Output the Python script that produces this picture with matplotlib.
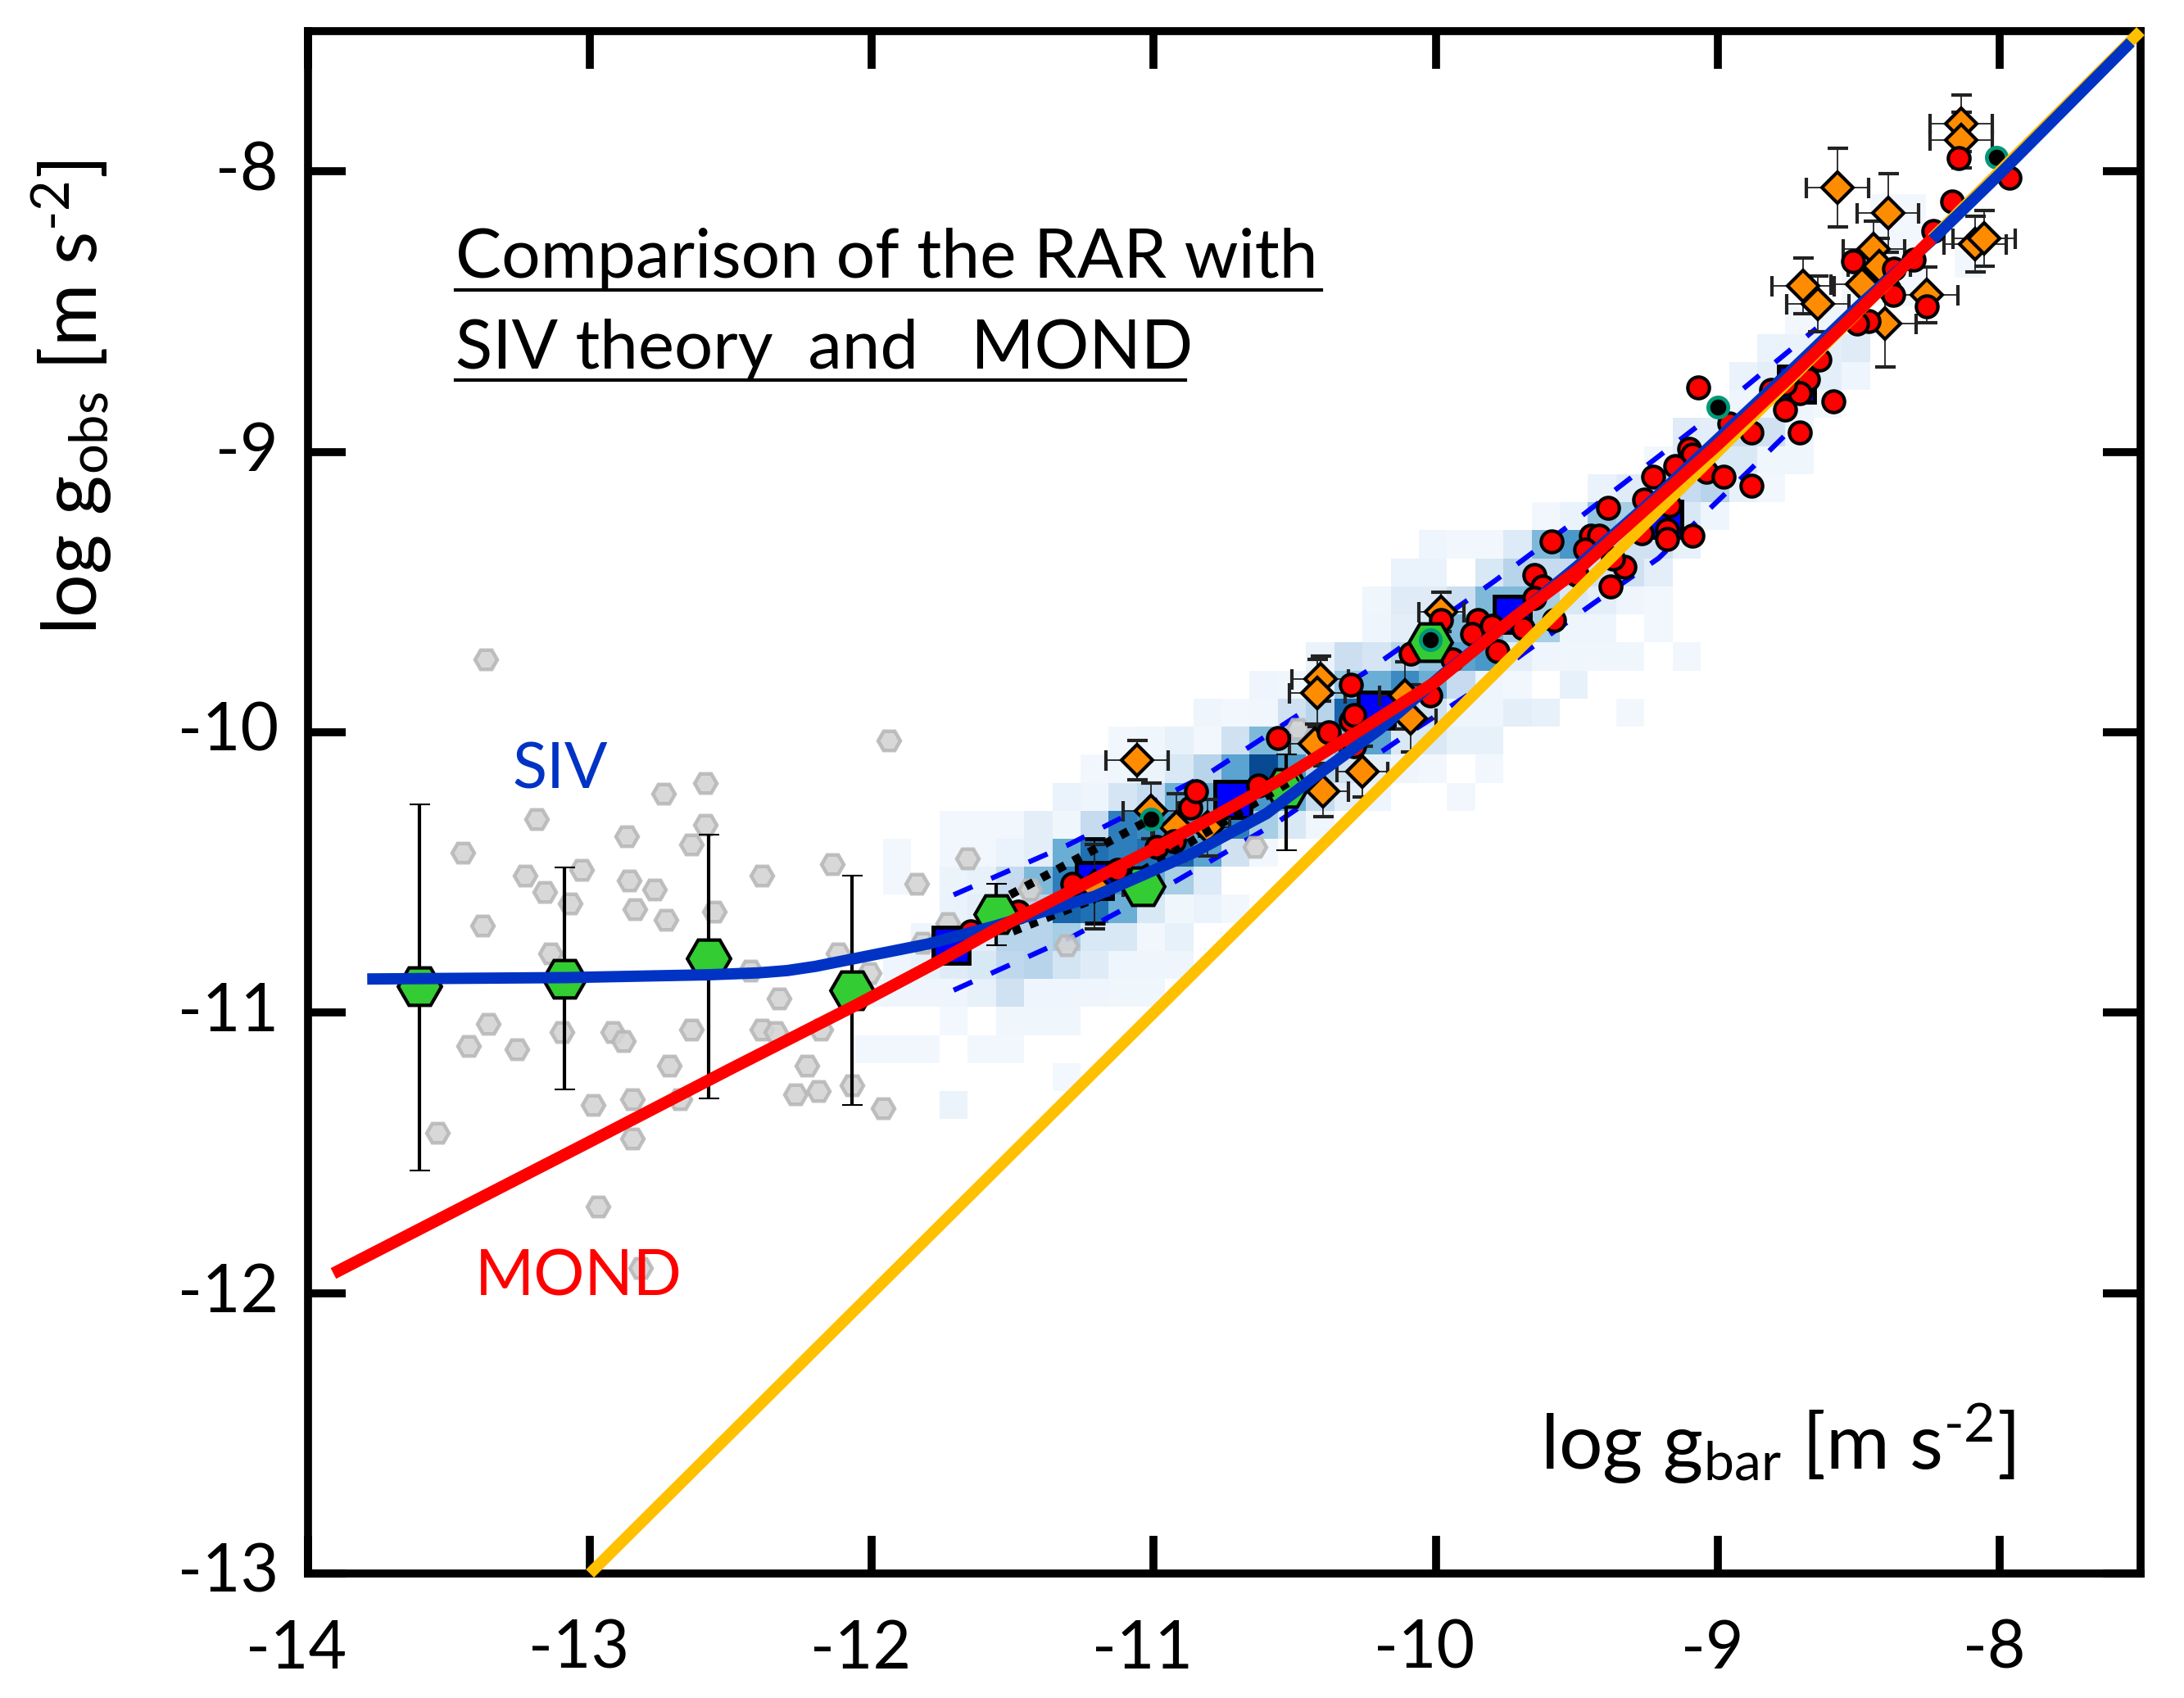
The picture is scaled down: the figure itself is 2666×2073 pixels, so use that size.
import numpy as np
import matplotlib
matplotlib.use('Agg')
import matplotlib.pyplot as plt
from matplotlib.lines import Line2D
from matplotlib.transforms import ScaledTranslation

plt.rcParams['font.family'] = ['Lato', 'DejaVu Sans']
plt.rcParams['mathtext.fontset'] = 'custom'
plt.rcParams['mathtext.rm'] = 'Lato'
plt.rcParams['mathtext.default'] = 'regular'
plt.rcParams['axes.unicode_minus'] = False

# binned density, one row per y band: (top of band, first column, values)
hist_x0 = -12.06
hist_rows = [
    (-8.08, 36, [.03, .03]),
    (-8.18, 36, [.03, .03]),
    (-8.28, 35, [.03, .03, .03, .00, .03]),
    (-8.38, 35, [.03, .03, .03]),
    (-8.48, 33, [.03, .05, .03]),
    (-8.58, 32, [.07, .07, .10, .12]),
    (-8.68, 31, [.07, .10, .10, .10, .05]),
    (-8.78, 31, [.05, .05, .05, .03]),
    (-8.88, 29, [.12, .10, .25, .20, .05]),
    (-8.98, 28, [.03, .10, .15, .15, .04, .04]),
    (-9.08, 26, [.07, .12, .20, .25, .30, .08, .03]),
    (-9.18, 24, [.03, .07, .40, .35, .20, .15, .05]),
    (-9.28, 20, [.05, .03, .03, .13, .45, .60, .30, .20, .20, .08]),
    (-9.38, 19, [.07, .07, .00, .15, .30, .25, .25, .20, .20, .10]),
    (-9.48, 18, [.04, .12, .12, .22, .45, .45, .35, .15, .10, .05, .03]),
    (-9.58, 18, [.05, .10, .15, .45, .50, .35, .35, .05, .05, .00, .03]),
    (-9.68, 16, [.07, .22, .17, .30, .40, .55, .60, .10, .05, .04, .04, .04, .00, .03]),
    (-9.78, 14, [.05, .04, .10, .40, .50, .65, .50, .25, .05, .03, .00, .08]),
    (-9.88, 12, [.05, .03, .04, .20, .30, .80, .70, .30, .20, .05, .05, .10, .08, .00, .00, .03]),
    (-9.98, 9, [.03, .04, .08, .03, .20, .45, .35, .30, .45, .55, .15, .15, .08, .08]),
    (-10.08, 8, [.03, .04, .06, .15, .30, .55, .90, .60, .30, .20, .10, .05, .03, .00, .03]),
    (-10.18, 7, [.07, .05, .17, .25, .50, .50, .70, .60, .50, .25, .10, .05, .00, .00, .03]),
    (-10.28, 3, [.03, .03, .03, .10, .04, .25, .70, .65, .60, .50, .70, .35, .15, .04]),
    (-10.38, 1, [.03, .00, .03, .03, .07, .10, .50, .75, .70, .75, .80, .55, .20, .03]),
    (-10.48, 1, [.03, .00, .06, .08, .25, .45, .70, .80, .60, .50, .35, .13]),
    (-10.58, 3, [.07, .10, .10, .30, .80, .75, .50, .15, .04, .07, .03]),
    (-10.68, 2, [.05, .08, .10, .30, .30, .35, .15, .15, .03, .08]),
    (-10.78, 1, [.05, .08, .12, .15, .27, .30, .18, .12, .05, .05, .05]),
    (-10.88, 0, [.04, .05, .05, .05, .08, .20, .05, .05, .05, .04, .04]),
    (-10.98, 3, [.02, .00, .04, .04, .04]),
    (-11.08, 0, [.03, .03, .03, .00, .03, .03]),
    (-11.18, 7, [.02]),
    (-11.28, 3, [.06]),
]

# individual galaxies at low acceleration
gray_x = [-13.37, -11.94, -12.59, -12.74, -13.19, -12.59, -12.87, -12.64, -13.45, -13.03, -13.23,
          -12.86, -12.39, -12.14, -11.84, -13.16, -12.77, -13.07, -12.84, -12.73, -12.56, -13.38,
          -13.14, -12.12, -12.43, -12.01, -11.82, -12.33, -13.36, -13.10, -12.92, -12.88, -12.64,
          -12.39, -12.34, -12.18, -13.43, -13.26, -12.72, -12.23, -12.27, -12.19, -12.07, -11.96,
          -12.99, -12.85, -12.68, -13.54, -12.85, -12.97, -12.82, -11.66, -11.73, -11.44, -11.31,
          -10.64, -10.49]
gray_y = [-9.74, -10.03, -10.18, -10.22, -10.31, -10.33, -10.37, -10.40, -10.43, -10.49, -10.51,
          -10.53, -10.51, -10.47, -10.54, -10.57, -10.56, -10.61, -10.63, -10.67, -10.64, -10.69,
          -10.79, -10.79, -10.85, -10.86, -10.75, -10.95, -11.04, -11.07, -11.07, -11.10, -11.06,
          -11.06, -11.07, -11.06, -11.12, -11.13, -11.19, -11.19, -11.29, -11.28, -11.26, -11.34,
          -11.33, -11.31, -11.31, -11.43, -11.45, -11.69, -11.91, -10.45, -10.68, -10.56, -10.76,
          -10.41, -9.99]

# binned points
green_x = [-13.605, -13.09, -12.58, -12.07, -11.56, -11.04, -10.53, -10.02]
green_y = [-10.907, -10.878, -10.805, -10.92, -10.65, -10.55, -10.20, -9.68]
green_up = [.65, .395, .44, .41, .11, .05, .12, .05]
green_dn = [.655, .395, .50, .41, .11, .05, .22, .05]

square_x = [-11.72, -11.21, -10.72, -10.21, -9.73, -9.19, -8.72]
square_y = [-10.76, -10.53, -10.24, -9.92, -9.58, -9.24, -8.76]
square_err = [.05, .15, .05, .05, .05, .05, .05]

diamond_x = [-8.136, -8.136, -8.576, -8.396, -8.087, -8.056, -8.446, -8.488, -8.697, -8.645, -8.407, -8.257, -8.427,
             -9.98, -10.41, -10.42, -10.09, -10.11, -10.43, -10.26, -10.40, -11.06, -11.01, -10.92,
             -10.81, -11.21]
diamond_y = [-7.829, -7.888, -8.059, -8.148, -8.26, -8.239, -8.277, -8.402, -8.409, -8.472, -8.543, -8.441, -8.339,
             -9.57, -9.81, -9.86, -9.95, -9.87, -10.04, -10.14, -10.21, -10.10, -10.28, -10.34,
             -10.34, -10.55]
diamond_xerr = [.11, .11, .11, .11, .11, .11, .11, .11, .11, .11, .11, .11, .11,
                .08, .10, .10, .09, .09, .09, .09, .09, .11, .10, .08, .08, .10]
diamond_yerr = [.10, .10, .14, .14, .10, .10, .10, .10, .10, .10, .155, .10, .10,
                .07, .08, .12, .12, .12, .07, .09, .09, .07, .10, .12, .10, .15]

red_x = [-9.07, -8.96, -8.88, -8.71, -8.59, -8.76, -8.68, -8.71, -8.81, -8.64, -8.76, -9.10, -9.09,
         -9.15, -9.04, -8.98, -8.88, -9.23, -9.26, -9.17, -9.39, -9.45, -9.42, -9.47, -9.59, -9.18,
         -9.18, -9.09, -9.27, -9.65, -9.62, -9.65, -9.33, -9.38, -9.37, -9.50, -9.85, -9.87, -9.80,
         -9.69, -9.58, -9.78, -9.94, -9.98, -11.65, -11.48, -11.29,
         -11.13, -10.99, -10.93, -10.87, -10.85, -10.63, -10.56, -10.38, -10.30, -10.29, -10.29,
         -10.30, -10.02, -10.09, -8.144, -7.966, -8.168, -8.235, -8.521, -8.374, -8.306, -8.393,
         -8.378, -8.257, -8.466, -8.504]
red_y = [-8.77, -8.90, -8.93, -8.93, -8.82, -8.85, -8.74, -8.79, -8.78, -8.67, -8.76, -8.99, -9.01,
         -9.05, -9.07, -9.09, -9.12, -9.09, -9.17, -9.19, -9.20, -9.30, -9.30, -9.35, -9.32, -9.28,
         -9.31, -9.30, -9.29, -9.44, -9.48, -9.52, -9.41, -9.48, -9.38, -9.44, -9.60, -9.65, -9.62,
         -9.63, -9.60, -9.71, -9.74, -9.60, -10.71, -10.64, -10.54,
         -10.49, -10.41, -10.39, -10.27, -10.21, -10.19, -10.02, -10.00, -9.96, -9.94, -10.05,
         -9.83, -9.87, -9.72, -7.953, -8.022, -8.109, -8.212, -8.322, -8.348, -8.314, -8.421,
         -8.441, -8.48, -8.533, -8.543]

teal_x = [-8.01, -9.00, -10.02, -11.01]
teal_y = [-7.95, -8.84, -9.67, -10.31]

# curves
unity_x = [-13.0, -7.5]
unity_y = [-13.0, -7.5]

mond_x = [-13.91, -13.0, -12.5, -12.05, -11.75, -11.555, -11.214, -11.0, -10.784, -10.561, -10.264, -10.0,
          -9.72, -9.5, -9.25, -9.0, -8.75, -8.5, -8.24]
mond_y = [-11.93, -11.46, -11.20, -10.97, -10.81, -10.70, -10.525, -10.415, -10.30, -10.175, -9.99, -9.82,
          -9.59, -9.425, -9.20, -8.975, -8.74, -8.497, -8.24]

siv_x = [-13.79, -13.08, -12.58, -12.40, -12.30, -12.20, -12.10, -12.00, -11.90, -11.80, -11.56, -11.21, -10.86,
         -10.60, -10.41, -10.20, -9.97, -9.67, -9.50, -9.25, -9.0, -8.75, -8.5, -8.24, -8.0, -7.535]
siv_y = [-10.88, -10.875, -10.865, -10.858, -10.85, -10.835, -10.815, -10.795, -10.775, -10.755, -10.69, -10.585, -10.43,
         -10.29, -10.145, -9.99, -9.79, -9.55, -9.41, -9.19, -8.955, -8.72, -8.48, -8.245, -8.01, -7.54]

dash_up_x = [-11.71, -11.30, -10.81, -10.49, -10.24, -9.79, -9.51, -9.06, -8.65]
dash_up_y = [-10.58, -10.40, -10.15, -9.94, -9.78, -9.46, -9.25, -8.90, -8.56]
dash_lo_x = [-11.71, -11.29, -10.92, -10.56, -10.12, -9.89, -9.69, -9.44, -9.21, -8.84, -8.76]
dash_lo_y = [-10.92, -10.73, -10.53, -10.32, -10.02, -9.87, -9.72, -9.54, -9.38, -9.02, -8.94]

dot_up_x = [-11.51, -11.02]
dot_up_y = [-10.58, -10.315]
dot_lo_x = [-11.50, -11.20, -10.90, -10.49]
dot_lo_y = [-10.71, -10.59, -10.41, -10.16]

x_ticks = [-14, -13, -12, -11, -10, -9, -8]
y_ticks = [-13, -12, -11, -10, -9, -8]

W, H = 2666, 2073
fig = plt.figure(figsize=(W/100, H/100), dpi=100)
ax = fig.add_axes([376/W, 1-1921/H, (2613-376)/W, (1921-38)/H])

# density cells
ncol = 40
y_tops = [r[0] for r in hist_rows]
grid = np.full((len(hist_rows), ncol), np.nan)
for j, (top, first, vals) in enumerate(hist_rows):
    for k, v in enumerate(vals):
        if v > 0:
            grid[j, first+k] = v
x_edges = hist_x0 + 0.1*np.arange(ncol+1)
y_edges = np.array(y_tops + [y_tops[-1]-0.1])
ax.pcolormesh(x_edges, y_edges, grid, cmap='Blues', vmin=0, vmax=1, zorder=1, linewidth=0)

ax.plot(dash_up_x, dash_up_y, color='#0000ff', lw=4.5, dashes=(4, 4), dash_capstyle='butt', zorder=2)
ax.plot(dash_lo_x, dash_lo_y, color='#0000ff', lw=4.5, dashes=(4, 4), dash_capstyle='butt', zorder=2)

ax.plot(gray_x, gray_y, 'H', ms=19.5, mfc='#d4d4d4', mec='#b8b8b8', mew=3.2, alpha=.9, zorder=3)

ax.errorbar(square_x, square_y, yerr=square_err, fmt='s', ms=31, mfc='#0000ff', mec='k', mew=3.5,
            ecolor='k', elinewidth=1.3, capsize=9, capthick=1.3, zorder=4)
ax.errorbar(diamond_x, diamond_y, xerr=diamond_xerr, yerr=diamond_yerr, fmt='D', ms=19.5, mfc='#ff8c00',
            mec='k', mew=3, ecolor='#222222', elinewidth=1.3, capsize=9, capthick=1.3, zorder=5)
ax.plot(red_x, red_y, 'o', ms=19, mfc='#ff0000', mec='k', mew=3, zorder=6)

ax.errorbar(green_x, green_y, yerr=[green_dn, green_up], fmt='none', ecolor='k', elinewidth=3,
            capsize=9, capthick=1.5, zorder=6.5)
ax.plot(green_x, green_y, 'H', ms=38, mfc='#33cc33', mec='k', mew=3, zorder=7)
ax.plot(teal_x, teal_y, 'o', ms=17.5, mfc='k', mec='#009977', mew=3.4, zorder=8)

ax.plot(dot_up_x, dot_up_y, color='k', lw=7.5, dashes=(1, 1.1), dash_capstyle='butt', zorder=9)
ax.plot(dot_lo_x, dot_lo_y, color='k', lw=7.5, dashes=(1, 1.1), dash_capstyle='butt', zorder=9)

ax.plot(unity_x, unity_y, color='#ffc000', lw=10, solid_capstyle='butt', zorder=10, clip_on=False)
ax.plot(siv_x, siv_y, color='#0033c4', lw=10, solid_capstyle='butt', zorder=11)
ax.plot(mond_x, mond_y, color='#ff0000', lw=10.5, solid_capstyle='butt', zorder=12)

ax.set_xlim(-14, -7.5)
ax.set_ylim(-13, -7.5)
ax.set_xticks(x_ticks)
ax.set_yticks(y_ticks)
ax.tick_params(direction='in', length=33, width=7, top=True, right=True, labelsize=58)
ax.tick_params(axis='x', pad=40)
ax.tick_params(axis='y', pad=26)
for s in ax.spines.values():
    s.set_linewidth(7)

# tick labels sit a little off their ticks in the original
for lab, t in zip(ax.get_xticklabels(), x_ticks):
    shift = -7 if t > -10 else -14
    lab.set_transform(lab.get_transform() + ScaledTranslation(shift/100, 0, fig.dpi_scale_trans))
for lab in ax.get_yticklabels():
    lab.set_transform(lab.get_transform() + ScaledTranslation(0, 7/100, fig.dpi_scale_trans))

fig.text(88/W, 1-485/H, r'log g$_{obs}$ [m s$^{\text{-}2}$]', rotation=90, ha='center', va='center', fontsize=67)
fig.text(2170/W, 1-1763/H, r'log g$_{bar}$ [m s$^{\text{-}2}$]', ha='center', va='center', fontsize=68)
fig.text(556/W, 1-316/H, 'Comparison of the RAR with', ha='left', va='center', fontsize=60.5)
fig.text(556/W, 1-427/H, 'SIV theory  and   MOND', ha='left', va='center', fontsize=60)
fig.add_artist(Line2D([556/W, 1613/W], [1-354/H, 1-354/H], color='k', lw=3))
fig.add_artist(Line2D([556/W, 1447/W], [1-464/H, 1-464/H], color='k', lw=3))
fig.text(684/W, 1-941/H, 'SIV', color='#0033c4', ha='center', va='center', fontsize=56)
fig.text(706/W, 1-1560/H, 'MOND', color='#ff0000', ha='center', va='center', fontsize=56)

fig.savefig('out.png', dpi=100)
